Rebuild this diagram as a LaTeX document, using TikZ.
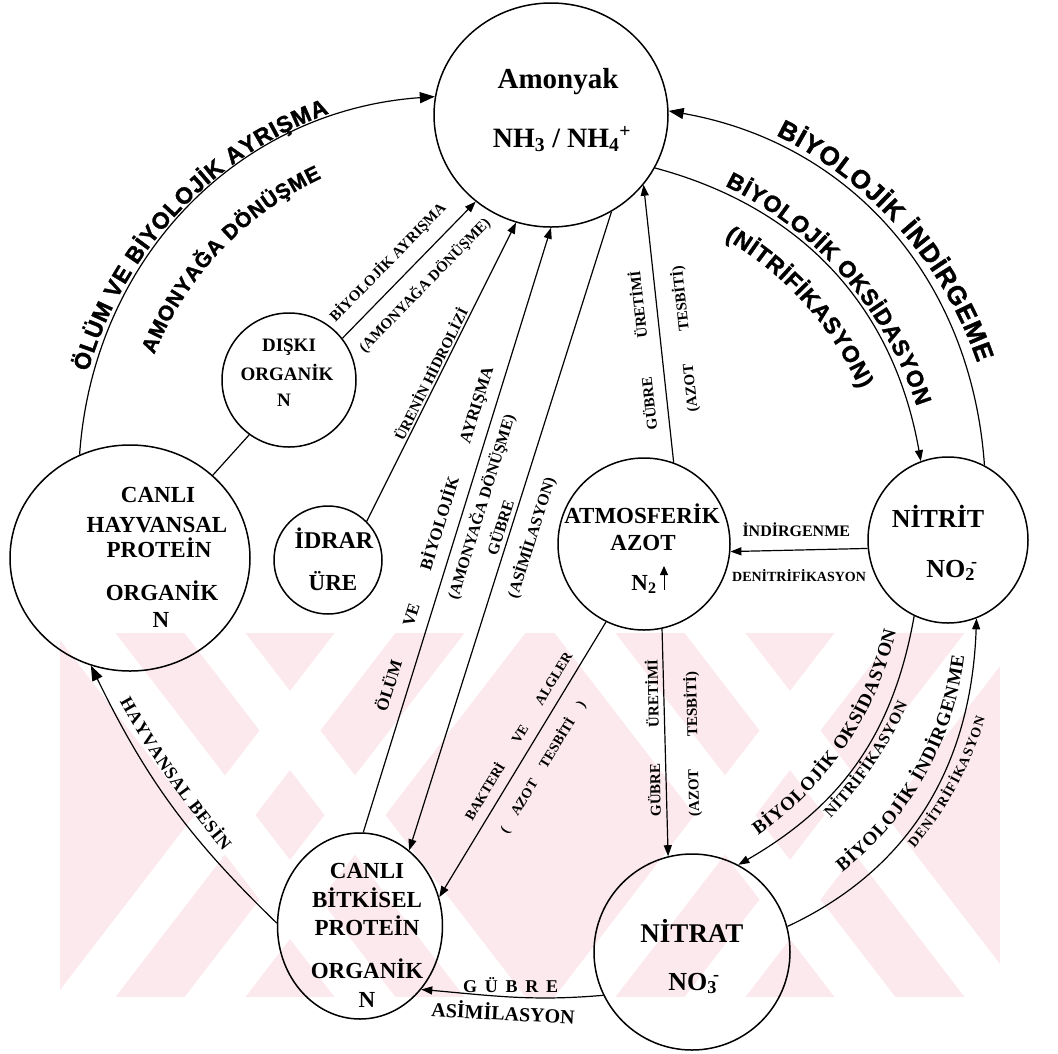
\documentclass[tikz,border=0pt]{standalone}
\usepackage{fontspec}
\setmainfont{Liberation Serif}
\setsansfont{Liberation Sans}
\newfontfamily\heavysans{Liberation Sans}[BoldFeatures={FakeBold=1.5}]
\usetikzlibrary{arrows.meta,shapes.geometric,decorations.text}
\definecolor{wmpink}{RGB}{252,233,237}
\newcommand\fsz[1]{\fontsize{#1}{#1}\selectfont}
\newcommand\sarc[1]{\heavysans\bfseries\fsz{#1}}
\newcommand\rarc[1]{\rmfamily\bfseries\fsz{#1}}
\begin{document}
\begin{tikzpicture}[x=1pt,y=1pt,
  bub/.style={draw, line width=1.5pt, inner sep=0pt},
  conn/.style={line width=1.2pt},
  arr/.style={conn, -{Triangle[length=11pt,width=8pt]}},
  bigarr/.style={conn, -{Triangle[length=15pt,width=11pt]}},
  ln/.style={inner sep=0pt, anchor=base},
  lab/.style={inner sep=0pt},
  gap/.style={white, line width=48pt},
  txt/.style={decorate, decoration={text along path, text align=fit to path, text={#1}}}]
\useasboundingbox[fill=white] (0,0) rectangle (1058,-1053);

% ---------- faint watermark band ----------
\begin{scope}
  \clip (60,-633) rectangle (1000,-997);
  \fill[wmpink] (60,-633) rectangle (1000,-997);
  \foreach \cx in {290,790}{
    \foreach \off in {-65,65}{
      \draw[gap] ({\cx+\off-300},-425) -- ({\cx+\off+300},-1205);
      \draw[gap] ({\cx+\off+300},-425) -- ({\cx+\off-300},-1205);
    }
  }
\end{scope}

% ---------- bubbles ----------
\node[bub, ellipse, minimum width=234pt, minimum height=224pt] (amm) at (551,-115) {};
\node[bub, circle, minimum size=134pt] (disk) at (289,-380) {};
\node[bub, ellipse, minimum width=240pt, minimum height=226pt] (hay) at (130,-558) {};
\node[bub, circle, minimum size=108pt] (idr) at (328,-560) {};
\node[bub, circle, minimum size=172pt] (atm) at (644,-544) {};
\node[bub, ellipse, minimum width=160pt, minimum height=166pt] (nitrit) at (948,-540) {};
\node[bub, ellipse, minimum width=165pt, minimum height=186pt] (bit) at (360,-926) {};
\node[bub, circle, minimum size=196pt] (nitrat) at (692,-952) {};

% ---------- bubble texts ----------
\node[ln, font=\rarc{29}] (amm1) at (558,-88) {Amonyak};
\node[ln, font=\rarc{28}] (amm2) at (562,-147) {NH\textsubscript{3} / NH\textsubscript{4}\textsuperscript{+}};

\node[ln, font=\rarc{19}] (disk1) at (289,-351) {DIŞKI};
\node[ln, font=\rarc{19}] (disk2) at (287,-380) {ORGANİK};
\node[ln, font=\rarc{19}] (disk3) at (284,-406) {N};

\node[ln, font=\rarc{24}] (idr1) at (334,-548) {İDRAR};
\node[ln, font=\rarc{23}] (idr2) at (333,-590) {ÜRE};

\node[ln, font=\rarc{23}] (hay1) at (158,-502) {CANLI};
\node[ln, font=\rarc{23}] (hay2) at (157,-532) {HAYVANSAL};
\node[ln, font=\rarc{23}] (hay3) at (159,-557) {PROTEİN};
\node[ln, font=\rarc{23}] (hay4) at (162,-600) {ORGANİK};
\node[ln, font=\rarc{23}] (hay5) at (161,-627) {N};

\node[ln, font=\rarc{23}] (atm1) at (642,-523) {ATMOSFERİK};
\node[ln, font=\rarc{23}] (atm2) at (643,-550) {AZOT};
\node[ln, font=\rarc{23}] (atm3) at (644,-590) {N\textsubscript{2}};
\coordinate (n2up) at (664,-590);
\draw[line width=0.9pt, -{Triangle[length=9pt,width=8pt]}] (n2up) -- ++(0,24);

\node[ln, font=\rarc{26}] (nitrit1) at (938,-527) {NİTRİT};
\node[ln, font=\rarc{26}] (nitrit2) at (952,-577) {NO\textsubscript{2}\kern-0.15em\textsuperscript{-}};

\node[ln, font=\rarc{27}] (nitrat1) at (692,-942) {NİTRAT};
\node[ln, font=\rarc{26}] (nitrat2) at (694,-990) {NO\textsubscript{3}\kern-0.15em\textsuperscript{-}};

\node[ln, font=\rarc{23}] (bit1) at (367,-878) {CANLI};
\node[ln, font=\rarc{23}] (bit2) at (367,-907) {BİTKİSEL};
\node[ln, font=\rarc{23}] (bit3) at (367,-935) {PROTEİN};
\node[ln, font=\rarc{23}] (bit4) at (367,-978) {ORGANİK};
\node[ln, font=\rarc{23}] (bit5) at (367,-1007) {N};

% ---------- curved connectors ----------
\draw[bigarr] (hay.116) to[out=86,in=184] (amm.171);
\draw[bigarr] (nitrit.64) to[out=94,in=-10] (amm.2);
\draw[arr] (amm.-27) to[out=-15,in=100] (nitrit.109);
\draw[bigarr] (bit.178) to[out=136,in=-64] (hay.-110);
\draw[arr] (nitrat.15) to[out=25,in=268] (nitrit.-70);
\draw[arr] (nitrit.-114) to[out=-100,in=30] (nitrat.62);
\draw[arr] (nitrat.206) to[out=185,in=-5]
   node[lab, pos=.51, anchor=south, inner ysep=4pt, font=\rarc{18}] (gub) {\makebox[95pt][s]{G Ü B R E}}
   node[lab, pos=.55, anchor=north, inner ysep=6pt, rotate=-3, font=\rarc{20}] (asim) {ASİMİLASYON}
   (bit.-46);

% ---------- curved labels ----------
\path[txt={|\sarc{23}|ÖLÜM VE BİYOLOJİK AYRIŞMA}] (88.1,-371.8) arc[start angle=164, end angle=110, radius=389pt];
\path[txt={|\sarc{21}|AMONYAĞA DÖNÜŞME}] (154.2,-354.6) arc[start angle=158, end angle=115, radius=332pt];
\path[txt={|\sarc{26}|BİYOLOJİK İNDİRGEME}] (776.0,-135.2) arc[start angle=64, end angle=19, radius=397pt];
\path[txt={|\sarc{23}|BİYOLOJİK OKSİDASYON}] (725.0,-185.8) arc[start angle=64, end angle=18, radius=374pt];
\path[txt={|\sarc{23}|(NİTRİFİKASYON)}] (724.5,-238.8) arc[start angle=60, end angle=24, radius=327pt];
\path[txt={|\rarc{18}|HAYVANSAL BESİN}] (119.7,-701.7) arc[start angle=209, end angle=220.5, radius=907pt];
\path[txt={|\rarc{19}|BİYOLOJİK İNDİRGENME}] (842.3,-872.0) arc[start angle=-52, end angle=-7, radius=324pt];
\path[txt={|\rarc{14}|DENİTRİFİKASYON}] (914.3,-848.5) arc[start angle=-40.5, end angle=-16.5, radius=357pt];
\path[txt={|\rarc{19}|BİYOLOJİK OKSİDASYON}] (758.2,-835.3) arc[start angle=-55, end angle=-13, radius=344pt];
\path[txt={|\rarc{16}|NİTRİFİKASYON}] (830.5,-818.4) arc[start angle=-44.5, end angle=-23.5, radius=378pt];

% ---------- straight connectors ----------
\draw[arr] (disk.38) --
  node[lab, sloped, pos=.45, anchor=south, inner ysep=12pt, font=\rarc{15}] (l1) {BİYOLOJİK AYRIŞMA}
  node[lab, sloped, pos=.5, anchor=north, inner ysep=13pt, font=\rarc{15}] (l2) {(AMONYAĞA DÖNÜŞME)}
  (amm.-131);
\draw[arr] (idr.45) --
  node[lab, sloped, pos=.48, anchor=south, inner ysep=2pt, font=\rarc{15}] (l3) {ÜRENİN HİDROLİZİ}
  (amm.-108);
\draw[arr] (bit.88) --
  node[lab, sloped, pos=.476, anchor=south, inner ysep=9pt, font=\rarc{17}] (l4) {\makebox[360pt][s]{ÖLÜM VE BİYOLOJİK AYRIŞMA}}
  node[lab, sloped, pos=.546, anchor=north, inner ysep=7pt, font=\rarc{16}] (l5) {(AMONYAĞA DÖNÜŞME)}
  (amm.-90);
\draw[arr] (amm.-58) --
  node[lab, sloped, pos=.5, anchor=south, inner ysep=4pt, font=\rarc{16}] (l6) {GÜBRE}
  node[lab, sloped, pos=.5, anchor=north, inner ysep=13pt, font=\rarc{16}] (l7) {(ASİMİLASYON)}
  (bit.57);
\draw[arr] (atm.70) --
  node[lab, sloped, allow upside down, pos=.41, anchor=south, inner ysep=12pt, font=\rarc{15}] (l8) {\makebox[160pt][s]{GÜBRE ÜRETİMİ}}
  node[lab, sloped, allow upside down, pos=.435, anchor=north, inner ysep=16pt, font=\rarc{15}] (l9) {\makebox[146pt][s]{(AZOT TESBİTİ)}}
  (amm.-37);
\draw[arr] (nitrit.186) --
  node[lab, pos=.52, anchor=south, inner ysep=13pt, font=\rarc{16}] (l10) {İNDİRGENME}
  node[lab, pos=.5, anchor=north, inner ysep=19pt, font=\rarc{14}] (l11) {DENİTRİFİKASYON}
  (atm.-5);
\draw[arr] (atm.-116) --
  node[lab, sloped, pos=.445, anchor=south, inner ysep=10pt, font=\rarc{14}] (l12) {\makebox[194pt][s]{BAKTERİ VE ALGLER}}
  node[lab, sloped, pos=.487, anchor=north, inner ysep=13pt, font=\rarc{14}] (l13) {\makebox[152pt][s]{( AZOT TESBİTİ )}}
  (bit.20);
\draw[arr] (atm.-78) --
  node[lab, rotate=91.3, pos=.48, anchor=south, inner ysep=5pt, font=\rarc{15}] (l14) {\makebox[157pt][s]{GÜBRE ÜRETİMİ}}
  node[lab, rotate=91.3, pos=.51, anchor=north, inner ysep=19pt, font=\rarc{15}] (l15) {\makebox[145pt][s]{(AZOT TESBİTİ)}}
  (nitrat.104);
\draw[conn] (disk.-126) -- (hay.45);
\end{tikzpicture}
\end{document}
